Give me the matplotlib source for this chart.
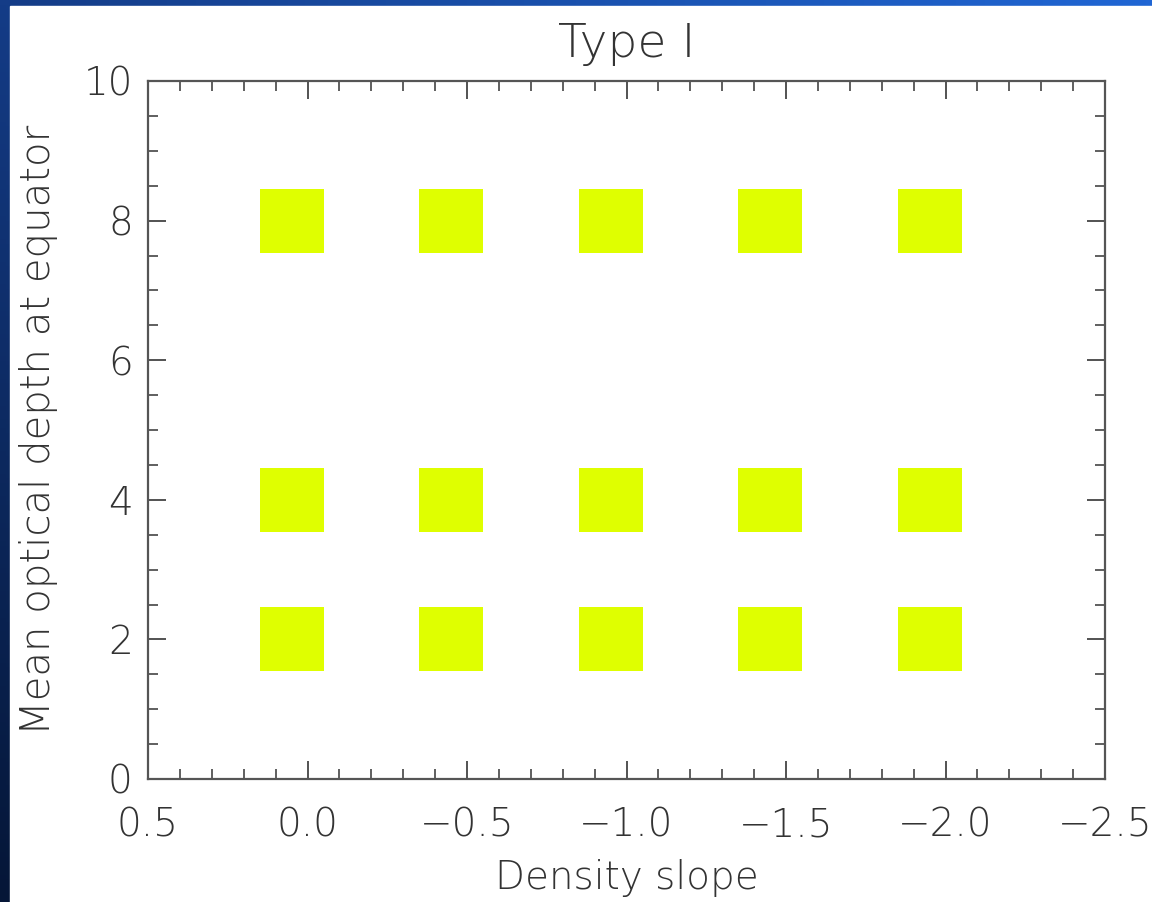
import numpy as np
import matplotlib
matplotlib.use("Agg")
import matplotlib.pyplot as plt
from matplotlib.ticker import MultipleLocator

# model grid
slopes = [0.05, -0.45, -0.95, -1.45, -1.95]
depths = [2, 4, 8]
title = "Type I"
xlabel = "Density slope"
ylabel = "Mean optical depth at equator"

plt.rcParams["font.weight"] = "light"
plt.rcParams["axes.titleweight"] = "light"
plt.rcParams["axes.labelweight"] = "light"

W, H = 1152, 902
fig = plt.figure(figsize=(W / 100, H / 100), dpi=100)

# blue gradient frame behind the white page
bg = fig.add_axes([0, 0, 1, 1])
u = np.linspace(0, 1, 200)[None, :, None]
v = np.linspace(0, 1, 200)[:, None, None]
tl = np.array([20, 60, 135]) / 255
tr = np.array([32, 102, 212]) / 255
bl = np.array([5, 22, 55]) / 255
grad = np.clip(tl + (tr - tl) * u + (bl - tl) * v, 0, 1)
bg.imshow(grad, aspect="auto", extent=[0, 1, 0, 1], origin="upper")
bg.add_patch(plt.Rectangle((10 / W, 0), 1, 1 - 6 / H, color="white"))
bg.set_xlim(0, 1)
bg.set_ylim(0, 1)
bg.axis("off")

ax = fig.add_axes([148 / W, 1 - 779 / H, (1105 - 148) / W, (779 - 81) / H])
ax.set_facecolor("white")

xs, ys = np.meshgrid(slopes, depths)
ax.scatter(xs.ravel(), ys.ravel(), marker="s", s=46 ** 2, color="#dfff00",
           linewidths=0, zorder=3)

ax.set_xlim(0.5, -2.5)
ax.set_ylim(0, 10)
ax.xaxis.set_major_locator(MultipleLocator(0.5))
ax.xaxis.set_minor_locator(MultipleLocator(0.1))
ax.yaxis.set_major_locator(MultipleLocator(2))
ax.yaxis.set_minor_locator(MultipleLocator(0.5))
ax.xaxis.set_major_formatter(plt.FuncFormatter(lambda v, p: f"{v:.1f}".replace("-", "\u2212")))

tc = "#333333"
for s in ax.spines.values():
    s.set_color("#555555")
    s.set_linewidth(1.6)
ax.tick_params(which="both", direction="in", top=True, right=True, colors="#444444",
               labelcolor=tc, labelsize=28)
ax.tick_params(which="major", length=13, width=1.3)
ax.tick_params(which="minor", length=7, width=1.2)
ax.tick_params(axis="x", which="major", pad=20)
ax.tick_params(axis="y", which="major", pad=11)

ax.set_title(title, fontsize=34, color=tc, pad=17)
ax.set_xlabel(xlabel, fontsize=28, color=tc, labelpad=10)
ax.set_ylabel(ylabel, fontsize=29, color=tc, labelpad=18)

fig.savefig("out.png", dpi=100)
